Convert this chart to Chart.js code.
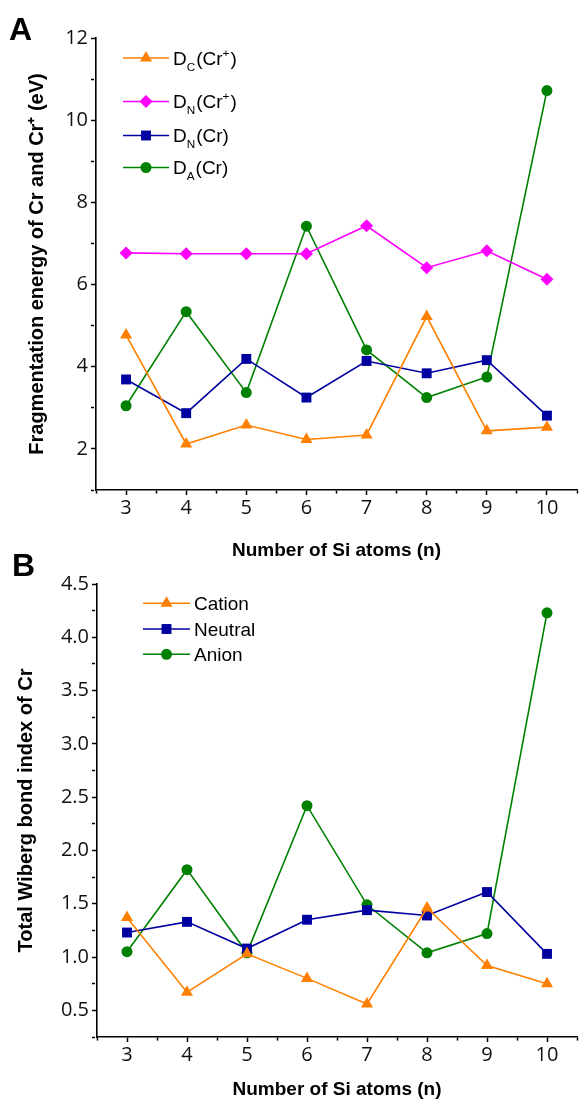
<!DOCTYPE html>
<html lang="en">
<head>
<meta charset="UTF-8">
<title>Cr in Si clusters</title>
<script src="https://cdn.jsdelivr.net/npm/chart.js@4.4.0/dist/chart.umd.min.js"></script>
<style>
  html, body { margin: 0; padding: 0; background: #fff; }
  .page { position: relative; width: 584px; height: 1101px; overflow: hidden; }
  .panel { position: absolute; left: 0; width: 584px; }
  #boxA { top: 0; height: 565px; }
  #boxB { top: 565px; height: 536px; }
  .tag { position: absolute; font: bold 32px "Liberation Sans", Arial, sans-serif; line-height: 1; }
</style>
</head>
<body>
<div class="page">
  <div class="panel" id="boxA"><canvas id="chartA"></canvas></div>
  <div class="panel" id="boxB"><canvas id="chartB"></canvas></div>
  <div class="tag" style="left:9px; top:13px;">A</div>
  <div class="tag" style="left:12px; top:549px;">B</div>
</div>

<script>
    // number of Si atoms, shared by both panels
    var nAtoms = [3, 4, 5, 6, 7, 8, 9, 10];

    // panel A: fragmentation energies (eV)
    var dcCation  = [4.77, 2.12, 2.58, 2.23, 2.34, 5.22, 2.44, 2.53];
    var dnCation  = [6.77, 6.75, 6.75, 6.75, 7.43, 6.41, 6.82, 6.13];
    var dnNeutral = [3.69, 2.87, 4.19, 3.25, 4.14, 3.84, 4.16, 2.81];
    var daNeutral = [3.05, 5.34, 3.37, 7.42, 4.41, 3.25, 3.75, 10.72];

    // panel B: total Wiberg bond index of Cr
    var wbiCation  = [1.37, 0.67, 1.03, 0.80, 0.56, 1.46, 0.92, 0.75];
    var wbiNeutral = [1.23, 1.33, 1.08, 1.35, 1.44, 1.39, 1.61, 1.03];
    var wbiAnion   = [1.05, 1.82, 1.04, 2.42, 1.49, 1.04, 1.22, 4.23];

    // legend names; _X is a subscript, ^X a superscript
    var namesA = ['D_C(Cr^+)', 'D_N(Cr^+)', 'D_N(Cr)', 'D_A(Cr)'];
    var namesB = ['Cation', 'Neutral', 'Anion'];

    var ORANGE = '#FF8000', MAGENTA = '#FF00FF', NAVY = '#0000A0', GREEN = '#008000';
    var tickFont = { family: '"Liberation Sans Narrow", "Open Sans", sans-serif', size: 20 };
    var xTitleFont = { family: '"Liberation Sans", Arial, sans-serif', size: 19, weight: 'bold', lineHeight: 1.2 };
    var yTitleFont = { family: '"Liberation Sans", Arial, sans-serif', size: 20, weight: 'bold', lineHeight: 1.2 };

    function points(ys) {
        return nAtoms.map(function (n, i) { return { x: n, y: ys[i] }; });
    }

    function series(label, ys, color, style, radius) {
        return {
            label: label,
            data: points(ys),
            borderColor: color,
            backgroundColor: color,
            borderWidth: 1.6,
            pointStyle: style,
            pointRadius: radius,
            pointBorderWidth: 0,
            pointHoverRadius: radius,
            tension: 0
        };
    }

    function isMultiple(v, step) {
        var k = v / step;
        return Math.abs(k - Math.round(k)) < 1e-6;
    }

    // draws a label like D_C(Cr^+) with real sub/superscripts
    function drawRich(ctx, text, x, y, size) {
        var parts = [];
        for (var i = 0; i < text.length; i++) {
            var ch = text[i];
            if ((ch === '_' || ch === '^') && i + 1 < text.length) {
                parts.push({ t: text[i + 1], k: ch });
                i++;
            } else {
                if (parts.length && parts[parts.length - 1].k === '') parts[parts.length - 1].t += ch;
                else parts.push({ t: ch, k: '' });
            }
        }
        var base = y + size * 0.36;
        ctx.fillStyle = '#000';
        ctx.textBaseline = 'alphabetic';
        ctx.textAlign = 'left';
        parts.forEach(function (p) {
            var fs = p.k ? size * 0.62 : size;
            var dy = p.k === '_' ? size * 0.32 : (p.k === '^' ? -size * 0.42 : 0);
            ctx.font = fs + 'px "Liberation Sans", Arial, sans-serif';
            ctx.fillText(p.t, x, base + dy);
            x += ctx.measureText(p.t).width + (p.k ? 1 : 0);
        });
    }

    var richLegend = {
        id: 'richLegend',
        afterDraw: function (chart, args, opts) {
            var ctx = chart.ctx;
            ctx.save();
            chart.data.datasets.forEach(function (ds, i) {
                var y = opts.rows[i];
                var x0 = opts.x, x1 = opts.x + opts.len;
                ctx.strokeStyle = ds.borderColor;
                ctx.lineWidth = 1.6;
                ctx.beginPath();
                ctx.moveTo(x0, y);
                ctx.lineTo(x1, y);
                ctx.stroke();
                ctx.fillStyle = ds.backgroundColor;
                Chart.helpers.drawPoint(ctx, { pointStyle: ds.pointStyle, radius: ds.pointRadius, rotation: 0, borderWidth: 0 }, (x0 + x1) / 2, y);
                drawRich(ctx, ds.label, x1 + opts.gap, y, opts.size);
            });
            ctx.restore();
        }
    };

    function axisX(height, titlePad) {
        return {
            type: 'linear', min: 2.5, max: 10.5,
            afterFit: function (s) { s.height = height; },
            border: { color: '#000', width: 1.6 },
            grid: {
                drawOnChartArea: false, tickLength: 5, tickColor: '#000', tickWidth: 1.5,
                tickBorderDash: function (c) { return isMultiple(c.tick.value, 1) ? [] : [3, 20]; }
            },
            ticks: {
                stepSize: 0.5, autoSkip: false, maxRotation: 0, padding: 1, color: '#111', font: tickFont,
                callback: function (v) { return isMultiple(v, 1) ? String(Math.round(v)) : ''; }
            },
            title: { display: true, text: 'Number of Si atoms (n)', color: '#000', font: xTitleFont, padding: { top: 0, bottom: titlePad } }
        };
    }

    function axisY(width, min, max, step, major, digits, title, titlePad) {
        return {
            type: 'linear', min: min, max: max,
            afterFit: function (s) { s.width = width; },
            border: { color: '#000', width: 1.6 },
            grid: {
                drawOnChartArea: false, tickLength: 5, tickColor: '#000', tickWidth: 1.5,
                tickBorderDash: function (c) { return isMultiple(c.tick.value, major) ? [] : [3, 20]; }
            },
            ticks: {
                stepSize: step, autoSkip: false, padding: 3, color: '#111', font: tickFont,
                callback: function (v) { return isMultiple(v, major) ? v.toFixed(digits) : ''; }
            },
            title: { display: true, text: title, color: '#000', font: yTitleFont, padding: { top: titlePad, bottom: 0 } }
        };
    }

    function baseOptions(padTop, x, y, legend) {
        return {
            responsive: true,
            maintainAspectRatio: false,
            animation: false,
            events: [],
            layout: { padding: { left: 0, right: 2, top: padTop, bottom: 0 } },
            plugins: { legend: { display: false }, tooltip: { enabled: false }, richLegend: legend },
            scales: { x: x, y: y }
        };
    }

    new Chart(document.getElementById('chartA'), {
        type: 'line',
        data: {
            datasets: [
                series(namesA[0], dcCation, ORANGE, 'triangle', 7),
                series(namesA[1], dnCation, MAGENTA, 'rectRot', 6.5),
                series(namesA[2], dnNeutral, NAVY, 'rect', 7),
                series(namesA[3], daNeutral, GREEN, 'circle', 5.5)
            ]
        },
        options: baseOptions(38,
            axisX(75, 3),
            axisY(96, 1, 12, 1, 2, 0, 'Fragmentation energy of Cr and Cr\u207A (eV)', 25),
            { x: 123, len: 46, gap: 4, size: 19, rows: [58, 101.5, 135.5, 167.5] }),
        plugins: [richLegend]
    });

    new Chart(document.getElementById('chartB'), {
        type: 'line',
        data: {
            datasets: [
                series(namesB[0], wbiCation, ORANGE, 'triangle', 7),
                series(namesB[1], wbiNeutral, NAVY, 'rect', 7),
                series(namesB[2], wbiAnion, GREEN, 'circle', 5.5)
            ]
        },
        options: baseOptions(19,
            axisX(64, 0),
            axisY(97, 0.25, 4.5, 0.25, 0.5, 1, 'Total Wiberg bond index of Cr', 14),
            { x: 143, len: 47, gap: 4, size: 19, rows: [38.3, 64, 89.3] }),
        plugins: [richLegend]
    });
</script>
</body>
</html>
